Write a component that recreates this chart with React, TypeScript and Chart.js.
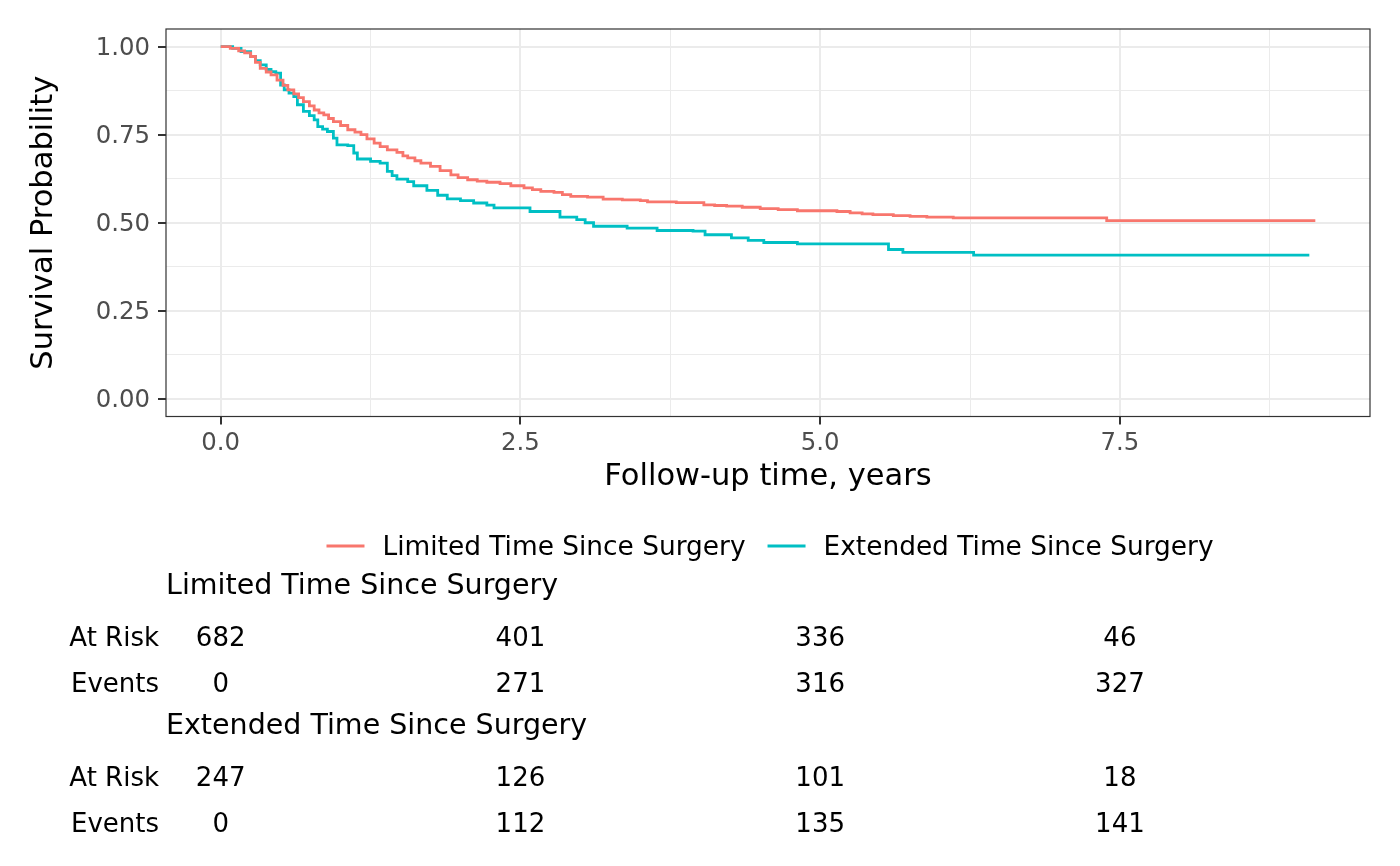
import React, { useEffect, useRef } from 'react';
import Chart from 'chart.js/auto';

// Kaplan-Meier step points (time in years, survival after the drop)
const limitedTime = [
  0, 0.08, 0.15, 0.2, 0.25, 0.29, 0.33, 0.38, 0.42, 0.47, 0.52, 0.56, 0.61, 0.65, 0.69, 0.74,
  0.78, 0.82, 0.86, 0.9, 0.94, 1.0, 1.06, 1.12, 1.17, 1.22, 1.28, 1.33, 1.39, 1.47, 1.52, 1.56,
  1.62, 1.67, 1.75, 1.83, 1.92, 1.98, 2.06, 2.14, 2.22, 2.33, 2.42, 2.53, 2.6, 2.67, 2.78, 2.85,
  2.92, 3.06, 3.19, 3.35, 3.5, 3.56, 3.8, 4.03, 4.12, 4.22, 4.35, 4.5, 4.65, 4.81, 5.14, 5.25,
  5.35, 5.44, 5.61, 5.75, 5.89, 6.11, 7.39, 9.13,
];
const limitedSurv = [
  1.0, 0.995, 0.988, 0.982, 0.972, 0.955, 0.938, 0.928, 0.92, 0.905, 0.89, 0.877, 0.866, 0.855, 0.844, 0.832,
  0.82, 0.812, 0.806, 0.796, 0.787, 0.776, 0.764, 0.757, 0.75, 0.738, 0.726, 0.716, 0.707, 0.7, 0.69, 0.684,
  0.676, 0.669, 0.66, 0.648, 0.636, 0.628, 0.622, 0.618, 0.615, 0.611, 0.605, 0.599, 0.594, 0.589, 0.586, 0.58,
  0.575, 0.573, 0.567, 0.565, 0.563, 0.559, 0.557, 0.551, 0.549, 0.547, 0.544, 0.54, 0.537, 0.534, 0.532, 0.528,
  0.525, 0.523, 0.52, 0.518, 0.516, 0.514, 0.506, 0.506,
];

const extendedTime = [
  0, 0.1, 0.17, 0.25, 0.29, 0.33, 0.38, 0.42, 0.46, 0.5, 0.53, 0.57, 0.61, 0.64, 0.69, 0.74,
  0.78, 0.81, 0.85, 0.89, 0.94, 0.97, 1.06, 1.11, 1.14, 1.25, 1.33, 1.39, 1.43, 1.47, 1.56, 1.61,
  1.72, 1.81, 1.89, 2.0, 2.11, 2.22, 2.28, 2.58, 2.83, 2.97, 3.04, 3.11, 3.39, 3.64, 3.94, 4.04,
  4.26, 4.4, 4.53, 4.81, 5.57, 5.69, 6.28, 9.08,
];
const extendedSurv = [
  1.0, 0.995, 0.986, 0.972, 0.96, 0.948, 0.935, 0.929, 0.925, 0.891, 0.877, 0.868, 0.858, 0.835, 0.816, 0.804,
  0.792, 0.773, 0.766, 0.759, 0.74, 0.721, 0.719, 0.698, 0.681, 0.674, 0.669, 0.646, 0.634, 0.624, 0.617, 0.605,
  0.592, 0.578, 0.568, 0.563, 0.556, 0.55, 0.542, 0.532, 0.516, 0.509, 0.5, 0.49, 0.485, 0.478, 0.476, 0.466,
  0.457, 0.45, 0.444, 0.44, 0.424, 0.416, 0.408, 0.408,
];

const xTicks = [0, 1.25, 2.5, 3.75, 5, 6.25, 7.5, 8.75];
const yTicks = [0, 0.125, 0.25, 0.375, 0.5, 0.625, 0.75, 0.875, 1];

const groupNames = ['Limited Time Since Surgery', 'Extended Time Since Surgery'];
const riskTimes = [0, 2.5, 5, 7.5];
const limitedAtRisk = [682, 401, 336, 46];
const limitedEvents = [0, 271, 316, 327];
const extendedAtRisk = [247, 126, 101, 18];
const extendedEvents = [0, 112, 135, 141];

const RED = '#F8766D';
const TEAL = '#00BFC4';
const FONT = '"DejaVu Sans", sans-serif';

const isMajorX = (v: number) => Math.abs(v / 2.5 - Math.round(v / 2.5)) < 1e-6;
const isMajorY = (v: number) => Math.abs(v / 0.25 - Math.round(v / 0.25)) < 1e-6;

const extrasPlugin = {
  id: 'kmExtras',
  afterDatasetsDraw(chart: any) {
    const { ctx, chartArea } = chart;
    ctx.save();
    ctx.strokeStyle = '#333333';
    ctx.lineWidth = 1.2;
    ctx.strokeRect(chartArea.left, chartArea.top, chartArea.right - chartArea.left, chartArea.bottom - chartArea.top);
    ctx.restore();
  },
  afterDraw(chart: any) {
    const { ctx, chartArea } = chart;
    const xs = chart.scales.x;
    ctx.save();

    // legend
    ctx.font = `26.4px ${FONT}`;
    ctx.textBaseline = 'middle';
    ctx.textAlign = 'left';
    const w1 = ctx.measureText(groupNames[0]).width;
    const w2 = ctx.measureText(groupNames[1]).width;
    const keyW = 38;
    const keyGap = 18;
    const itemGap = 22;
    const total = keyW + keyGap + w1 + itemGap + keyW + keyGap + w2;
    const legendY = 548;
    let lx = 770 - total / 2;
    [[RED, groupNames[0], w1], [TEAL, groupNames[1], w2]].forEach(([color, name, w]: any) => {
      ctx.strokeStyle = color;
      ctx.lineWidth = 3;
      ctx.beginPath();
      ctx.moveTo(lx, legendY - 2);
      ctx.lineTo(lx + keyW, legendY - 2);
      ctx.stroke();
      ctx.fillStyle = '#000000';
      ctx.fillText(name, lx + keyW + keyGap, legendY);
      lx += keyW + keyGap + w + itemGap;
    });

    // risk table
    const groups = [
      { name: groupNames[0], atRisk: limitedAtRisk, events: limitedEvents, y: 587 },
      { name: groupNames[1], atRisk: extendedAtRisk, events: extendedEvents, y: 727 },
    ];
    groups.forEach((g) => {
      ctx.fillStyle = '#000000';
      ctx.font = `28.5px ${FONT}`;
      ctx.textAlign = 'left';
      ctx.fillText(g.name, chartArea.left, g.y);

      ctx.font = `26px ${FONT}`;
      ctx.textAlign = 'right';
      ctx.fillText('At Risk', 159, g.y + 52);
      ctx.fillText('Events', 159, g.y + 98);
      ctx.textAlign = 'center';
      riskTimes.forEach((t, i) => {
        const px = xs.getPixelForValue(t);
        ctx.fillText(String(g.atRisk[i]), px, g.y + 52);
        ctx.fillText(String(g.events[i]), px, g.y + 98);
      });
    });
    ctx.restore();
  },
};

const App: React.FC = () => {
  const canvasRef = useRef<HTMLCanvasElement>(null);
  const chartRef = useRef<Chart | null>(null);

  useEffect(() => {
    if (!canvasRef.current) return;
    if (chartRef.current) chartRef.current.destroy();

    chartRef.current = new Chart(canvasRef.current, {
      type: 'line',
      data: {
        datasets: [
          {
            label: groupNames[0],
            data: limitedTime.map((t, i) => ({ x: t, y: limitedSurv[i] })),
            borderColor: RED,
            borderWidth: 2.8,
            pointRadius: 0,
            stepped: true,
            fill: false,
          },
          {
            label: groupNames[1],
            data: extendedTime.map((t, i) => ({ x: t, y: extendedSurv[i] })),
            borderColor: TEAL,
            borderWidth: 2.8,
            pointRadius: 0,
            stepped: true,
            fill: false,
          },
        ],
      },
      options: {
        responsive: false,
        animation: false,
        layout: { padding: { left: 0, top: 29, right: 30, bottom: 369.5 } },
        plugins: {
          legend: { display: false },
          tooltip: { enabled: false },
        },
        scales: {
          x: {
            type: 'linear',
            min: -0.456,
            max: 9.586,
            afterBuildTicks: (scale: any) => {
              scale.ticks = xTicks.map((v) => ({ value: v }));
            },
            afterFit: (scale: any) => {
              scale.height = 80;
            },
            ticks: {
              autoSkip: false,
              maxRotation: 0,
              padding: 5,
              color: '#4D4D4D',
              font: { family: FONT, size: 24.4 },
              callback: (v: any) => (isMajorX(Number(v)) ? Number(v).toFixed(1) : ''),
            },
            grid: {
              color: '#EBEBEB',
              lineWidth: (c: any) => (isMajorX(c.tick.value) ? 2 : 1),
              tickColor: (c: any) => (isMajorX(c.tick.value) ? '#333333' : 'rgba(0,0,0,0)'),
              tickWidth: 2,
              tickLength: 8,
            },
            border: { display: false },
            title: {
              display: true,
              text: 'Follow-up time, years',
              color: '#000000',
              font: { family: FONT, size: 30.5 },
              padding: { top: 0, bottom: 1 },
            },
          },
          y: {
            type: 'linear',
            min: -0.05,
            max: 1.05,
            afterBuildTicks: (scale: any) => {
              scale.ticks = yTicks.map((v) => ({ value: v }));
            },
            afterFit: (scale: any) => {
              scale.width = 166;
            },
            ticks: {
              autoSkip: false,
              padding: 8,
              labelOffset: 2,
              color: '#4D4D4D',
              font: { family: FONT, size: 24.4 },
              callback: (v: any) => (isMajorY(Number(v)) ? Number(v).toFixed(2) : ''),
            },
            grid: {
              color: '#EBEBEB',
              lineWidth: (c: any) => (isMajorY(c.tick.value) ? 2 : 1),
              tickColor: (c: any) => (isMajorY(c.tick.value) ? '#333333' : 'rgba(0,0,0,0)'),
              tickWidth: 2,
              tickLength: 8,
            },
            border: { display: false },
            title: {
              display: true,
              text: 'Survival Probability',
              color: '#000000',
              font: { family: FONT, size: 30.5 },
              padding: { top: 26, bottom: 0 },
            },
          },
        },
      },
      plugins: [extrasPlugin],
    } as any);

    return () => {
      if (chartRef.current) {
        chartRef.current.destroy();
        chartRef.current = null;
      }
    };
  }, []);

  return (
    <div style={{ position: 'absolute', left: 0, top: 0, width: 1400, height: 866, background: '#ffffff' }}>
      <canvas ref={canvasRef} width={1400} height={866}></canvas>
    </div>
  );
};

export default App;
